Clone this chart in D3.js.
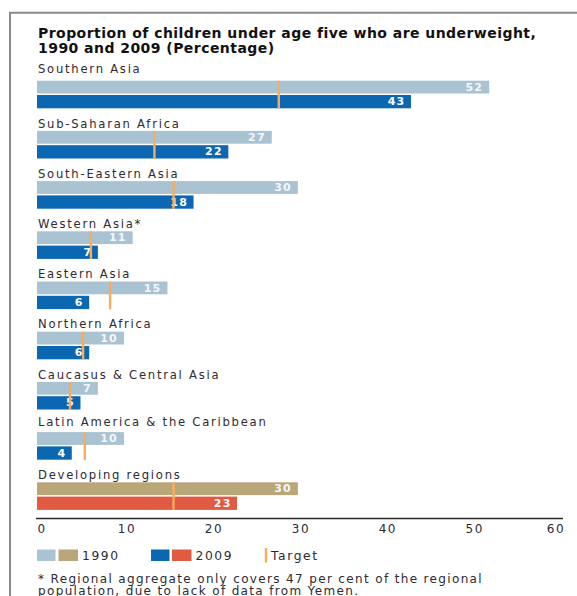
<!DOCTYPE html>
<html>
<head>
<meta charset="utf-8">
<script src="https://cdn.jsdelivr.net/npm/d3@7"></script>
<style>
  html, body { margin: 0; padding: 0; background: #fff; }
  svg { display: block; }
  text { font-family: "DejaVu Sans", sans-serif; }
</style>
</head>
<body>
<svg id="chart" width="577" height="596"></svg>
<script>
// Underweight children under five, by region, 1990 vs 2009 (%)
const regions = [
  "Southern Asia",
  "Sub-Saharan Africa",
  "South-Eastern Asia",
  "Western Asia*",
  "Eastern Asia",
  "Northern Africa",
  "Caucasus & Central Asia",
  "Latin America & the Caribbean",
  "Developing regions"
];
const values1990 = [52, 27, 30, 11, 15, 10, 7, 10, 30];
const values2009 = [43, 22, 18, 7, 6, 6, 5, 4, 23];
const targets = [27.8, 13.5, 15.7, 6.2, 8.4, 5.3, 3.8, 5.5, 15.7];
const tickValues = [0, 10, 20, 30, 40, 50, 60];
const legendLabels = ["1990", "2009", "Target"];
const titleLines = [
  "Proportion of children under age five who are underweight,",
  "1990 and 2009 (Percentage)"
];
const footnoteLines = [
  "* Regional aggregate only covers 47 per cent of the regional",
  "population, due to lack of data from Yemen."
];

const colors = {
  light1990: "#a9c3d2",
  dark2009: "#0b67b2",
  agg1990: "#b9a679",
  agg2009: "#e05b41",
  target: "#f8ac5e",
  frame: "#8a8a8a",
  text: "#2e2a33"
};

const svg = d3.select("#chart");

// frame
svg.append("path")
  .attr("d", "M10,596 V12.7 H577")
  .attr("fill", "none")
  .attr("stroke", colors.frame)
  .attr("stroke-width", 2);

// title
svg.append("g").selectAll("text")
  .data(titleLines)
  .join("text")
  .attr("x", 38)
  .attr("y", (d, i) => 37.5 + i * 15)
  .attr("font-size", 14)
  .attr("font-weight", "bold")
  .attr("letter-spacing", 0.45)
  .attr("fill", "#111")
  .text(d => d);

const x = d3.scaleLinear().domain([0, 60]).range([37, 558.8]);
const y = d3.scaleBand().domain(regions).range([62, 62 + 50.2 * regions.length]);

const rows = regions.map((r, i) => ({
  region: r,
  v1990: values1990[i],
  v2009: values2009[i],
  target: targets[i],
  aggregate: i === regions.length - 1,
  // the first heading and the long Latin America one sit a little higher
  labelLift: i === 0 ? 4 : (i === 7 ? 3 : 0)
}));

const g = svg.append("g").selectAll("g")
  .data(rows)
  .join("g")
  .attr("transform", d => `translate(0,${y(d.region)})`);

// region labels
g.append("text")
  .attr("x", 38)
  .attr("y", d => 15.4 - d.labelLift)
  .attr("font-size", 11.6)
  .attr("letter-spacing", 1.75)
  .attr("fill", colors.text)
  .text(d => d.region);

// 1990 bars
g.append("rect")
  .attr("x", x(0))
  .attr("y", 18.7)
  .attr("width", d => x(d.v1990) - x(0))
  .attr("height", 12.8)
  .attr("fill", d => d.aggregate ? colors.agg1990 : colors.light1990);

// 2009 bars
g.append("rect")
  .attr("x", x(0))
  .attr("y", 33)
  .attr("width", d => x(d.v2009) - x(0))
  .attr("height", 13.3)
  .attr("fill", d => d.aggregate ? colors.agg2009 : colors.dark2009);

// value labels
g.append("text")
  .attr("x", d => x(d.v1990) - 6)
  .attr("y", 28.8)
  .attr("text-anchor", "end")
  .attr("font-size", 11)
  .attr("font-weight", "bold")
  .attr("letter-spacing", 1.2)
  .attr("fill", "#f4f7f9")
  .text(d => d.v1990);

g.append("text")
  .attr("x", d => x(d.v2009) - 5.5)
  .attr("y", 43.3)
  .attr("text-anchor", "end")
  .attr("font-size", 11)
  .attr("font-weight", "bold")
  .attr("letter-spacing", 1.2)
  .attr("fill", "#fff")
  .text(d => d.v2009);

// target markers
g.append("line")
  .attr("x1", d => x(d.target))
  .attr("x2", d => x(d.target))
  .attr("y1", 18.7)
  .attr("y2", 46.5)
  .attr("stroke", colors.target)
  .attr("stroke-width", 2.4);

// x axis
const axisY = 518.5;
svg.append("line")
  .attr("x1", 36).attr("x2", 563)
  .attr("y1", axisY).attr("y2", axisY)
  .attr("stroke", "#2a2a2a")
  .attr("stroke-width", 1.6);

const axis = svg.append("g")
  .attr("transform", `translate(2.5,${axisY})`)
  .call(d3.axisBottom(x).tickValues(tickValues).tickSize(0).tickPadding(6));
axis.select(".domain").remove();
axis.selectAll("text")
  .attr("font-family", "DejaVu Sans, sans-serif")
  .attr("font-size", 12)
  .attr("letter-spacing", 1.6)
  .attr("fill", colors.text);
// end labels line up with the ends of the axis rule
axis.selectAll(".tick").filter(d => d === tickValues[0]).select("text")
  .attr("text-anchor", "start").attr("dx", -2.5);
axis.selectAll(".tick").filter(d => d === tickValues[tickValues.length - 1]).select("text")
  .attr("text-anchor", "end").attr("dx", 3.5);

// legend
const lg = svg.append("g").attr("transform", "translate(0,549.5)");
lg.append("rect").attr("x", 37).attr("y", 0).attr("width", 18.5).attr("height", 11.5).attr("fill", colors.light1990);
lg.append("rect").attr("x", 58.5).attr("y", 0).attr("width", 19.5).attr("height", 11.5).attr("fill", colors.agg1990);
lg.append("text").attr("x", 82).attr("y", 10.5).text(legendLabels[0]);
lg.append("rect").attr("x", 151).attr("y", 0).attr("width", 18.5).attr("height", 11.5).attr("fill", colors.dark2009);
lg.append("rect").attr("x", 172).attr("y", 0).attr("width", 19.5).attr("height", 11.5).attr("fill", colors.agg2009);
lg.append("text").attr("x", 195.5).attr("y", 10.5).text(legendLabels[1]);
lg.append("line").attr("x1", 266).attr("x2", 266).attr("y1", -1.5).attr("y2", 13)
  .attr("stroke", colors.target).attr("stroke-width", 2.4);
lg.append("text").attr("x", 271).attr("y", 10.5).text(legendLabels[2]);
lg.selectAll("text")
  .attr("font-size", 12.3)
  .attr("letter-spacing", 1.6)
  .attr("fill", colors.text);

// footnote
svg.append("g").selectAll("text")
  .data(footnoteLines)
  .join("text")
  .attr("x", 38)
  .attr("y", (d, i) => 582.8 + i * 12.6)
  .attr("font-size", 12)
  .attr("letter-spacing", 1.35)
  .attr("fill", colors.text)
  .text(d => d);
</script>
</body>
</html>
